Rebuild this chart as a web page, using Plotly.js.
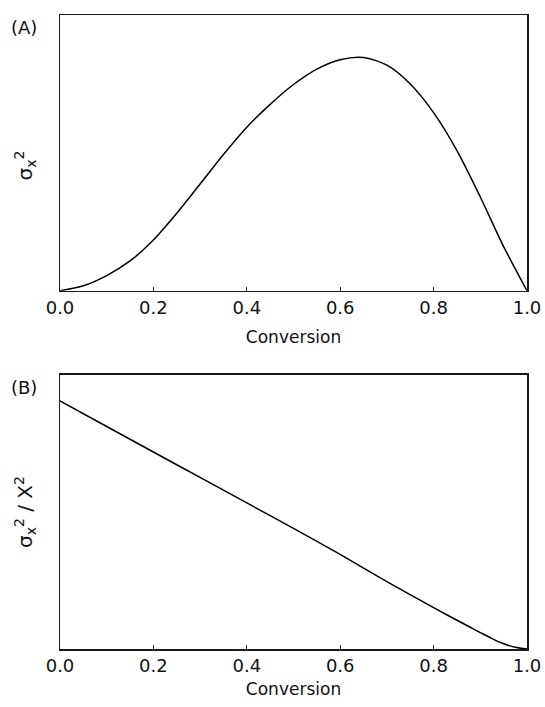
<!DOCTYPE html>
<html>
<head>
<meta charset="utf-8">
<script src="https://cdn.plot.ly/plotly-3.0.1.min.js"></script>
<style>html,body{margin:0;padding:0;background:#fff;}#chart{width:545px;height:707px;}</style>
</head>
<body>
<div id="chart"></div>
<script>
// Panel A: variance of conversion vs conversion (arbitrary units)
var convA = [0, 0.05, 0.1, 0.15, 0.2, 0.25, 0.3, 0.35, 0.4, 0.45, 0.5, 0.55, 0.6, 0.65, 0.7, 0.75, 0.8, 0.85, 0.9, 0.95, 1.0];
var sigmaA = [0, 0.018, 0.055, 0.108, 0.184, 0.281, 0.387, 0.494, 0.593, 0.676, 0.748, 0.804, 0.838, 0.846, 0.818, 0.750, 0.646, 0.508, 0.340, 0.160, 0];
// Panel B: relative variance vs conversion (arbitrary units)
var convB = [0, 0.1, 0.2, 0.3, 0.4, 0.5, 0.6, 0.7, 0.8, 0.85, 0.9, 0.925, 0.95, 0.975, 1.0];
var ratioB = [0.905, 0.812, 0.719, 0.626, 0.533, 0.440, 0.345, 0.246, 0.151, 0.105, 0.060, 0.038, 0.019, 0.006, 0];
var tickVals = [0, 0.2, 0.4, 0.6, 0.8, 1.0];
var tickText = ["0.0", "0.2", "0.4", "0.6", "0.8", "1.0"];

var FONT = "DejaVu Sans, Liberation Sans, Arial, sans-serif";
var lineStyle = {color: "#000", width: 1.5, shape: "spline", smoothing: 0.8};

var traces = [
  {x: convA, y: sigmaA, xaxis: "x2", yaxis: "y2", mode: "lines", line: lineStyle, hoverinfo: "x+y"},
  {x: convB, y: ratioB, xaxis: "x", yaxis: "y", mode: "lines", line: lineStyle, hoverinfo: "x+y"}
];

function xax(anchor, standoff) {
  return {
    anchor: anchor, range: [0, 1], tickvals: tickVals, ticktext: tickText,
    ticks: "inside", ticklen: 4, tickwidth: 1.2, tickcolor: "#222",
    showline: true, linecolor: "#1a1a1a", linewidth: 1.5, mirror: true,
    showgrid: false, zeroline: false,
    tickfont: {family: FONT, size: 18, color: "#111"},
    title: {text: "Conversion", font: {family: FONT, size: 17, color: "#111"}, standoff: standoff}
  };
}
function yax(domain, title) {
  return {
    domain: domain, range: [0, 1], showticklabels: false, ticks: "",
    showline: true, linecolor: "#1a1a1a", linewidth: 1.5, mirror: true,
    showgrid: false, zeroline: false,
    title: {text: title, font: {family: FONT, size: 20, color: "#111"}, standoff: 20}
  };
}

var layout = {
  width: 545, height: 707,
  margin: {l: 59.5, r: 17.5, t: 15, b: 58},
  paper_bgcolor: "#fff", plot_bgcolor: "#fff",
  showlegend: false,
  xaxis: xax("y", 8),
  xaxis2: xax("y2", 14),
  yaxis: yax([0, 0.4322], "σ<sub>x</sub><sup>2</sup> / X<sup>2</sup>"),
  yaxis2: yax([0.5651, 1], "σ<sub>x</sub><sup>2</sup>&nbsp;&nbsp;&nbsp;&nbsp;"),
  annotations: [
    {text: "(A)", xref: "paper", yref: "paper", x: -0.11, y: 1.0, xanchor: "left", yanchor: "top", showarrow: false,
     font: {family: FONT, size: 18, color: "#111"}},
    {text: "(B)", xref: "paper", yref: "paper", x: -0.11, y: 0.4322, xanchor: "left", yanchor: "top", showarrow: false,
     font: {family: FONT, size: 18, color: "#111"}}
  ]
};

Plotly.newPlot("chart", traces, layout, {staticPlot: true, displayModeBar: false});
</script>
</body>
</html>
